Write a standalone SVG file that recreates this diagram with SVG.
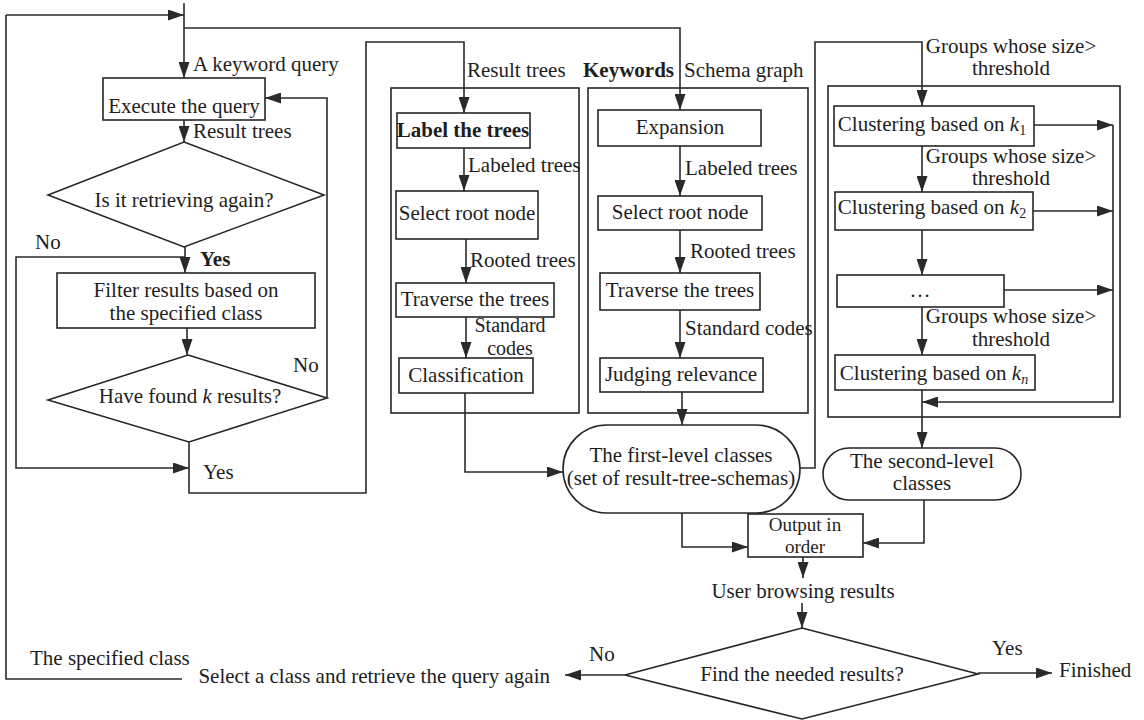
<svg xmlns="http://www.w3.org/2000/svg" width="1144" height="720" viewBox="0 0 1144 720">
<defs>
<marker id="ah" markerUnits="userSpaceOnUse" markerWidth="17" markerHeight="11" refX="16" refY="5.5" orient="auto">
<path d="M0,0 L16,5.5 L0,11 Z" fill="#2a2a2a"/>
</marker>
<style>
text{font-family:"Liberation Serif","Times New Roman",serif;font-size:21px;fill:#1e1e1e}
.m{text-anchor:middle}
.e{text-anchor:end}
.b{font-weight:bold}
.i{font-style:italic}
.s{font-size:19px}
.s20{font-size:20px}
.box{fill:#fff;stroke:#262626;stroke-width:1.6}
.panel{fill:none;stroke:#262626;stroke-width:1.6}
.c{fill:none;stroke:#2a2a2a;stroke-width:1.6}
.ca{fill:none;stroke:#2a2a2a;stroke-width:1.6;marker-end:url(#ah)}
</style>
</defs>
<rect width="1144" height="720" fill="#fff"/>

<g id="panels">
<rect class="panel" x="391" y="88" width="188" height="325"/>
<rect class="panel" x="588" y="88" width="220" height="325"/>
<rect class="panel" x="828" y="86" width="292" height="331"/>
</g>

<g id="connectors">
<path class="ca" d="M184,3 V78"/>
<path class="c" d="M182,679 H6 V15"/>
<path class="ca" d="M6,15 H184"/>
<path class="ca" d="M184,28 H680 V110"/>
<path class="ca" d="M184,120 V142"/>
<path class="ca" d="M185,247 V273"/>
<path class="ca" d="M185,257 H16 V468 H189"/>
<path class="ca" d="M187,328 V355"/>
<path class="ca" d="M327,398 V98 H265"/>
<path class="ca" d="M189,442 V493 H366 V42 H464 V113"/>
<path class="ca" d="M464,148 V191"/>
<path class="ca" d="M466,239 V283"/>
<path class="ca" d="M466,317 V358"/>
<path class="ca" d="M465,393 V472 H563"/>
<path class="ca" d="M680,146 V196"/>
<path class="ca" d="M680,230 V273"/>
<path class="ca" d="M680,310 V358"/>
<path class="ca" d="M682,392 V425"/>
<path class="ca" d="M800,468 H815 V42 H922 V106"/>
<path class="ca" d="M922,146 V192"/>
<path class="ca" d="M922,230 V275"/>
<path class="ca" d="M922,307 V355"/>
<path class="ca" d="M922,390 V448"/>
<path class="ca" d="M1034,125 H1113"/>
<path class="ca" d="M1033,211 H1113"/>
<path class="ca" d="M1004,290 H1113"/>
<path class="ca" d="M1113,125 V402 H922"/>
<path class="ca" d="M682,513 V547 H748"/>
<path class="ca" d="M924,500 V543 H863"/>
<path class="ca" d="M803,557 V578"/>
<path class="ca" d="M802,603 V628"/>
<path class="ca" d="M625,675 H565"/>
<path class="ca" d="M978,673 H1052"/>
</g>

<g id="labels">
<text x="193" y="71">A keyword query</text>
<text x="193" y="138">Result trees</text>
<text x="35" y="249">No</text>
<text class="b" x="200" y="266">Yes</text>
<text x="293" y="372">No</text>
<text x="203" y="479">Yes</text>
<text x="467" y="77">Result trees</text>
<text class="b" x="583" y="77">Keywords</text>
<text x="684" y="77">Schema graph</text>
<text x="468" y="172">Labeled trees</text>
<text x="470" y="267">Rooted trees</text>
<text class="m s20" x="510" y="332">Standard</text>
<text class="m s20" x="510" y="355">codes</text>
<text x="685" y="175">Labeled trees</text>
<text x="690" y="258">Rooted trees</text>
<text x="685" y="335">Standard codes</text>
<text class="m" x="1011" y="53">Groups whose size&gt;</text>
<text class="m" x="1011" y="75">threshold</text>
<text class="m" x="1011" y="163">Groups whose size&gt;</text>
<text class="m" x="1011" y="185">threshold</text>
<text class="m" x="1011" y="323">Groups whose size&gt;</text>
<text class="m" x="1011" y="346">threshold</text>
<text class="m" x="803" y="598">User browsing results</text>
<text x="589" y="661">No</text>
<text x="992" y="655">Yes</text>
<text x="1059" y="677">Finished</text>
<text class="e" x="550" y="683">Select a class and retrieve the query again</text>
<text x="30" y="665">The specified class</text>
</g>

<g id="execute">
<rect class="box" x="103" y="78" width="162" height="42"/>
<text class="m" x="184" y="113">Execute the query</text>
</g>
<g id="retrieving-again">
<polygon class="box" points="184,142 324,195 184,247 48,195"/>
<text class="m" x="184" y="207">Is it retrieving again?</text>
</g>
<g id="filter">
<rect class="box" x="57" y="273" width="258" height="55"/>
<text class="m" x="186" y="297">Filter results based on</text>
<text class="m" x="186" y="320">the specified class</text>
</g>
<g id="found-k">
<polygon class="box" points="188,355 327,398 189,442 48,400"/>
<text class="m" x="190" y="403">Have found <tspan class="i">k</tspan> results?</text>
</g>

<g id="label-trees">
<rect class="box" x="397" y="113" width="133" height="35"/>
<text class="m b" x="463" y="137">Label the trees</text>
</g>
<g id="select-root-left">
<rect class="box" x="396" y="191" width="142" height="48"/>
<text class="m" x="467" y="220">Select root node</text>
</g>
<g id="traverse-left">
<rect class="box" x="396" y="283" width="158" height="34"/>
<text class="m" x="475" y="306">Traverse the trees</text>
</g>
<g id="classification">
<rect class="box" x="399" y="358" width="134" height="35"/>
<text class="m" x="466" y="382">Classification</text>
</g>

<g id="expansion">
<rect class="box" x="598" y="110" width="163" height="36"/>
<text class="m" x="680" y="134">Expansion</text>
</g>
<g id="select-root-right">
<rect class="box" x="598" y="196" width="164" height="34"/>
<text class="m" x="680" y="219">Select root node</text>
</g>
<g id="traverse-right">
<rect class="box" x="600" y="273" width="160" height="37"/>
<text class="m" x="680" y="297">Traverse the trees</text>
</g>
<g id="judging">
<rect class="box" x="600" y="358" width="163" height="34"/>
<text class="m" x="681" y="381">Judging relevance</text>
</g>

<g id="first-level">
<rect class="box" x="563" y="425" width="237" height="88" rx="44" ry="44"/>
<text class="m" x="681" y="462">The first-level classes</text>
<text class="m" x="681" y="485">(set of result-tree-schemas)</text>
</g>

<g id="cluster-k1">
<rect class="box" x="834" y="106" width="200" height="40"/>
<text class="m" x="932" y="131">Clustering based on <tspan class="i">k</tspan><tspan font-size="14" dy="4">1</tspan></text>
</g>
<g id="cluster-k2">
<rect class="box" x="835" y="192" width="198" height="38"/>
<text class="m" x="932" y="214">Clustering based on <tspan class="i">k</tspan><tspan font-size="14" dy="4">2</tspan></text>
</g>
<g id="cluster-dots">
<rect class="box" x="837" y="275" width="167" height="32"/>
<text class="m" x="920" y="297" font-size="15">…</text>
</g>
<g id="cluster-kn">
<rect class="box" x="835" y="355" width="200" height="35"/>
<text class="m" x="934" y="380">Clustering based on <tspan class="i">k</tspan><tspan class="i" font-size="14" dy="4">n</tspan></text>
</g>

<g id="second-level">
<rect class="box" x="823" y="448" width="198" height="52" rx="26" ry="26"/>
<text class="m" x="922" y="468">The second-level</text>
<text class="m" x="922" y="490">classes</text>
</g>

<g id="output">
<rect class="box" x="748" y="514" width="115" height="43"/>
<text class="m s" x="805" y="531">Output in</text>
<text class="m s" x="805" y="553">order</text>
</g>

<g id="find-needed">
<polygon class="box" points="802,628 978,674 802,719 625,675"/>
<text class="m" x="802" y="681">Find the needed results?</text>
</g>
</svg>
